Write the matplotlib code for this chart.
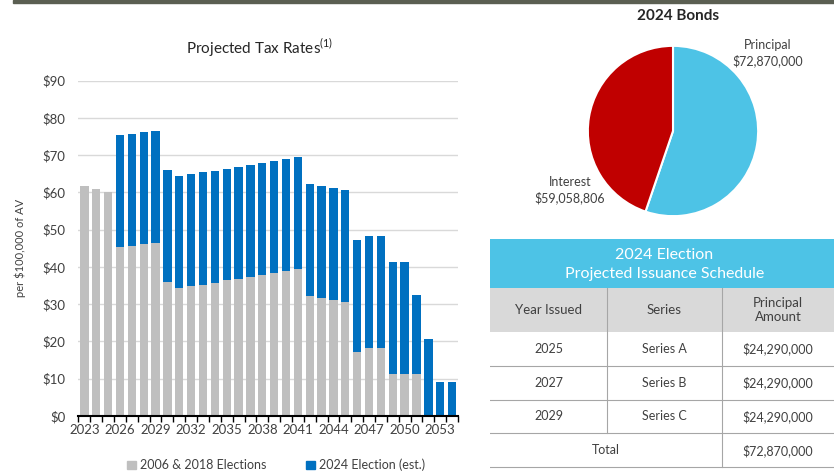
#####################################################################
# Importing packages

import matplotlib.pyplot as plt
import numpy
from matplotlib.patches import Rectangle, Patch

plt.rcParams['font.family'] = ['Lato', 'DejaVu Sans']
plt.rcParams['mathtext.fontset'] = 'custom'
plt.rcParams['mathtext.rm'] = 'Lato'

#####################################################################
# Data

years = numpy.arange(2023, 2055)

# tax rate per $100,000 of AV, existing bonds
existing_rate = [61.7, 60.8, 60.0, 45.3, 45.6, 46.1, 46.4, 35.9, 34.3, 34.8,
                 35.2, 35.7, 36.4, 36.8, 37.4, 37.8, 38.5, 39.0, 39.5, 32.2,
                 31.8, 31.1, 30.5, 17.1, 18.2, 18.2, 11.3, 11.3, 11.4, 0.0,
                 0.0, 0.0]

# tax rate added by the 2024 election
new_rate = [0.0, 0.0, 0.0, 30.0, 30.2, 30.0, 30.2, 30.1, 30.2, 30.1,
            30.2, 30.1, 30.0, 30.1, 30.1, 30.2, 30.0, 30.0, 30.1, 30.2,
            30.0, 30.2, 30.2, 30.1, 30.1, 30.1, 30.1, 30.1, 21.0, 20.8,
            9.0, 9.0]

series_names = ['2006 & 2018 Elections', '2024 Election (est.)']

pie_labels = ['Principal', 'Interest']
pie_values = [72870000, 59058806]

table_title = ['2024 Election', 'Projected Issuance Schedule']
table_columns = ['Year Issued', 'Series', 'Principal\nAmount']
table_years = ['2025', '2027', '2029']
table_series = ['Series A', 'Series B', 'Series C']
table_amounts = [24290000, 24290000, 24290000]

#####################################################################
# Colours

c_gray = '#BFBFBF'
c_blue = '#0070C0'
c_red = '#C00000'
c_sky = '#4DC3E6'
c_text = '#404040'

W, H = 834, 476
fig = plt.figure(figsize=(W / 100, H / 100), dpi=100)

def px(x0, y0, x1, y1):
    # pixel box -> figure fraction [left, bottom, width, height]
    return [x0 / W, 1 - y1 / H, (x1 - x0) / W, (y1 - y0) / H]

# dark rule along the top edge
fig.patches.append(Rectangle((13 / W, 1 - 3 / H), 1, 3 / H,
                             transform=fig.transFigure, color='#5B5F52'))

######################################################################
# Stacked bar chart of tax rates

ax = fig.add_axes(px(78, 80.7, 458, 416))
pos = numpy.arange(len(years))
ax.bar(pos, existing_rate, width=0.7, color=c_gray, zorder=2)
ax.bar(pos, new_rate, width=0.7, bottom=existing_rate, color=c_blue, zorder=2)

ax.set_xlim(-0.54, len(years) - 0.53)
ax.set_ylim(0, 90)
ax.set_yticks(numpy.arange(0, 91, 10))
ax.set_yticklabels(['$' + str(v) for v in range(0, 91, 10)])
ax.grid(axis='y', color='#D9D9D9', linewidth=1, zorder=0)
ax.set_xticks(pos[::3])
ax.set_xticklabels([str(y) for y in years[::3]])
ax.set_xticks(numpy.arange(-0.5, len(years), 1), minor=True)
ax.tick_params(axis='x', which='major', length=0, pad=6,
               labelsize=9.5, labelcolor=c_text)
ax.tick_params(axis='x', which='minor', length=4, width=1, color='black')
ax.tick_params(axis='y', length=0, pad=9, labelsize=9.5, labelcolor=c_text)
for s in ['top', 'right', 'left']:
    ax.spines[s].set_visible(False)
ax.spines['bottom'].set_color('black')
ax.spines['bottom'].set_linewidth(1.5)
ax.spines['bottom'].set_zorder(3)

ax.set_ylabel('per $100,000 of AV', fontsize=8, color=c_text, labelpad=12)
fig.text(260 / W, 1 - 48 / H, r'Projected Tax Rates$^{(1)}$', fontsize=11,
         color='#262626', ha='center', va='center')

handles = [Patch(color=c_gray), Patch(color=c_blue)]
fig.legend(handles, series_names, loc='center', ncol=2,
           bbox_to_anchor=(276 / W, 1 - 465 / H), frameon=False,
           handlelength=0.7, handleheight=0.7, handletextpad=0.3,
           columnspacing=3.2, fontsize=9, labelcolor=c_text)

######################################################################
# Pie of principal vs interest

ax_pie = fig.add_axes(px(587, 45, 759, 217))
ax_pie.pie(pie_values, colors=[c_sky, c_red], startangle=90,
           counterclock=False, wedgeprops=dict(edgecolor='white', linewidth=1.5))
ax_pie.set_xlim(-1.01, 1.01)
ax_pie.set_ylim(-1.01, 1.01)
ax_pie.axis('off')

fig.text(678 / W, 1 - 16 / H, '2024 Bonds', fontsize=11, fontweight='bold',
         color='#262626', ha='center', va='center')
fig.text(768 / W, 1 - 53 / H,
         pie_labels[0] + '\n' + '${:,}'.format(pie_values[0]),
         fontsize=9, color=c_text, ha='center', va='center', linespacing=1.3)
fig.text(570 / W, 1 - 190 / H,
         pie_labels[1] + '\n' + '${:,}'.format(pie_values[1]),
         fontsize=9, color=c_text, ha='center', va='center', linespacing=1.3)

######################################################################
# Issuance schedule table

tx = fig.add_axes(px(490, 239, 834, 476))
tx.set_xlim(490, 834)
tx.set_ylim(476, 239)
tx.axis('off')

cols = [490, 607, 722, 834]
mid = [(cols[i] + cols[i + 1]) / 2 for i in range(3)]
top, head, row_h = 239, 288, 33.8
body = head + 44
n_rows = len(table_years) + 1
line_c = '#A6A6A6'

tx.add_patch(Rectangle((cols[0], top), cols[-1] - cols[0], head - top,
                       color=c_sky, lw=0))
tx.add_patch(Rectangle((cols[0], head), cols[-1] - cols[0], body - head,
                       color='#D9D9D9', lw=0))
tx.text(mid[1], top + 16, table_title[0], color='white', fontsize=11.5,
        ha='center', va='center')
tx.text(mid[1], top + 35, table_title[1], color='white', fontsize=11.5,
        ha='center', va='center')
for i, name in enumerate(table_columns):
    tx.text(mid[i], (head + body) / 2, name, color=c_text, fontsize=9.5,
            ha='center', va='center', linespacing=1.25)

for r in range(n_rows):
    y0 = body + r * row_h
    y1 = y0 + row_h
    yc = (y0 + y1) / 2
    tx.plot([cols[0], cols[-1]], [y1, y1], color=line_c, lw=0.8)
    if r < len(table_years):
        tx.text(mid[0], yc, table_years[r], color=c_text,
                fontsize=9, ha='center', va='center')
        tx.text(mid[1], yc, table_series[r], color=c_text,
                fontsize=9, ha='center', va='center')
        tx.text(mid[2], yc, '${:,}'.format(table_amounts[r]),
                color=c_text, fontsize=9, ha='center', va='center')
    else:
        tx.text((cols[0] + cols[2]) / 2, yc, 'Total', color=c_text,
                fontsize=9, ha='center', va='center')
        tx.text(mid[2], yc, '${:,}'.format(sum(table_amounts)),
                color=c_text, fontsize=9, ha='center', va='center')

# column dividers
last = body + n_rows * row_h
tx.plot([cols[1], cols[1]], [head, last - row_h], color=line_c, lw=0.8)
tx.plot([cols[2], cols[2]], [head, last], color=line_c, lw=0.8)

plt.savefig('out.png', dpi=100)
